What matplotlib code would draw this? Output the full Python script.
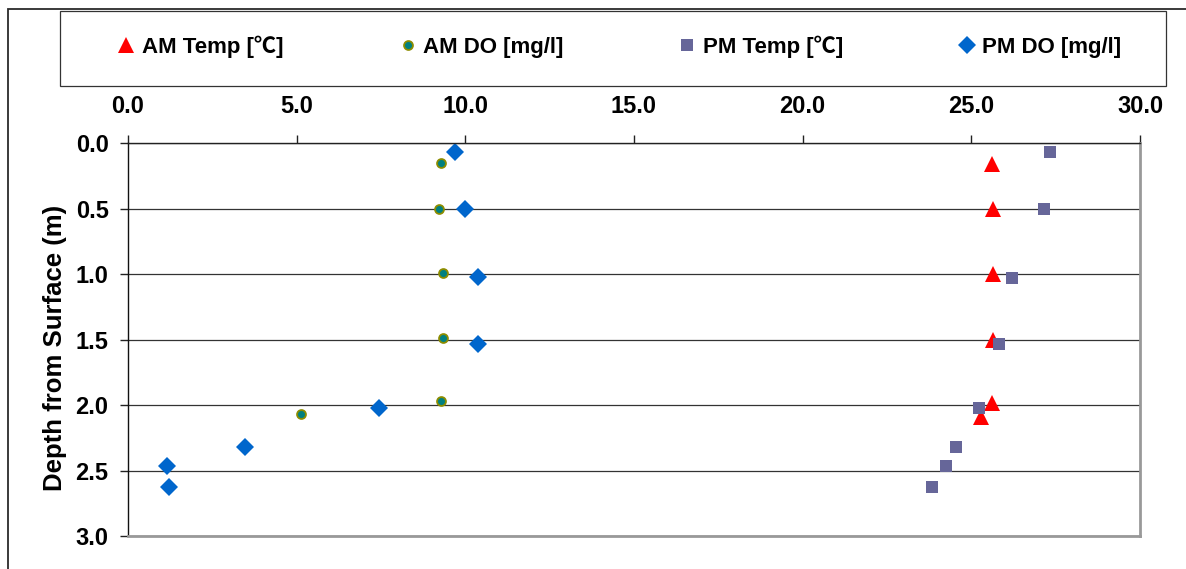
import matplotlib
matplotlib.use("Agg")
import matplotlib.pyplot as plt
from matplotlib.patches import Rectangle

plt.rcParams['font.family'] = ['Liberation Sans', 'Noto Sans CJK JP', 'DejaVu Sans']
plt.rcParams['font.weight'] = 'bold'

# Morning profile
am_temp = [25.6, 25.65, 25.65, 25.65, 25.6, 25.3]
am_temp_depth = [0.16, 0.5, 1.0, 1.5, 1.98, 2.09]
am_do = [9.27, 9.21, 9.33, 9.33, 9.27, 5.12]
am_do_depth = [0.15, 0.5, 0.99, 1.49, 1.965, 2.07]

# Afternoon profile
pm_temp = [27.32, 27.14, 26.22, 25.81, 25.24, 24.56, 24.26, 23.84]
pm_temp_depth = [0.07, 0.5, 1.03, 1.53, 2.02, 2.32, 2.46, 2.62]
pm_do = [9.69, 9.99, 10.39, 10.39, 7.44, 3.46, 1.16, 1.21]
pm_do_depth = [0.07, 0.5, 1.02, 1.53, 2.02, 2.32, 2.46, 2.62]

x_ticks = [0, 5, 10, 15, 20, 25, 30]
y_ticks = [0.0, 0.5, 1.0, 1.5, 2.0, 2.5, 3.0]

W, H = 1186, 569
fig = plt.figure(figsize=(W / 100, H / 100), dpi=100)

# outer chart frame
fig.patches.append(Rectangle((8 / W, -0.1), 1.2, 1 - 9 / H + 0.1,
                             transform=fig.transFigure, fill=False,
                             edgecolor='#2b2b2b', linewidth=1.3))
# legend frame
fig.patches.append(Rectangle((60 / W, 1 - 86 / H), (1166 - 60) / W, 75 / H,
                             transform=fig.transFigure, fill=False,
                             edgecolor='#333333', linewidth=0.9))

ax = fig.add_axes([128 / W, 1 - 536.3 / H, (1140 - 128) / W, 393 / H])

h1, = ax.plot(am_temp, am_temp_depth, linestyle='none', marker='^',
              markersize=11, color='#ff0000', markeredgewidth=0,
              label='AM Temp [℃]')
h2, = ax.plot(am_do, am_do_depth, linestyle='none', marker='o',
              markersize=6.4, markerfacecolor='#008080',
              markeredgecolor='#8c8c00', markeredgewidth=1.3,
              label='AM DO [mg/l]')
h3, = ax.plot(pm_temp, pm_temp_depth, linestyle='none', marker='s',
              markersize=8.6, color='#666699', markeredgewidth=0,
              label='PM Temp [℃]')
h4, = ax.plot(pm_do, pm_do_depth, linestyle='none', marker='D',
              markersize=9, color='#0066cc', markeredgewidth=0,
              label='PM DO [mg/l]')

ax.set_xlim(0, 30)
ax.set_ylim(3.0, 0.0)
ax.xaxis.tick_top()
ax.set_xticks(x_ticks)
ax.set_xticklabels([f"{v:.1f}" for v in x_ticks])
ax.set_yticks(y_ticks)
ax.set_yticklabels([f"{v:.1f}" for v in y_ticks])
ax.tick_params(axis='x', direction='out', length=6, width=1, color='#222222',
               pad=12, labelsize=17)
ax.tick_params(axis='y', direction='out', length=6, width=1, color='#222222',
               pad=8, labelsize=17)
for lab in ax.get_xticklabels() + ax.get_yticklabels():
    lab.set_fontweight('bold')

ax.yaxis.grid(True, color='#333333', linewidth=0.9)
ax.set_axisbelow(True)

ax.spines['top'].set_color('#222222')
ax.spines['top'].set_linewidth(1.0)
ax.spines['left'].set_color('#111111')
ax.spines['left'].set_linewidth(1.0)
for side in ('right', 'bottom'):
    ax.spines[side].set_color('#999999')
    ax.spines[side].set_linewidth(2.0)

ax.set_ylabel('Depth from Surface (m)', fontsize=18.5, fontweight='bold')
ax.yaxis.set_label_coords(-0.060, 0.48)

fig.legend(handles=[h1, h2, h3, h4], loc='center left',
           bbox_to_anchor=(117.6 / W, 1 - 47 / H), ncol=4, frameon=False,
           numpoints=1, handlelength=0.8, handletextpad=0.28,
           columnspacing=5.2, borderpad=0, borderaxespad=0,
           prop={'size': 16, 'weight': 'bold'})

fig.savefig('out.png', dpi=100)
